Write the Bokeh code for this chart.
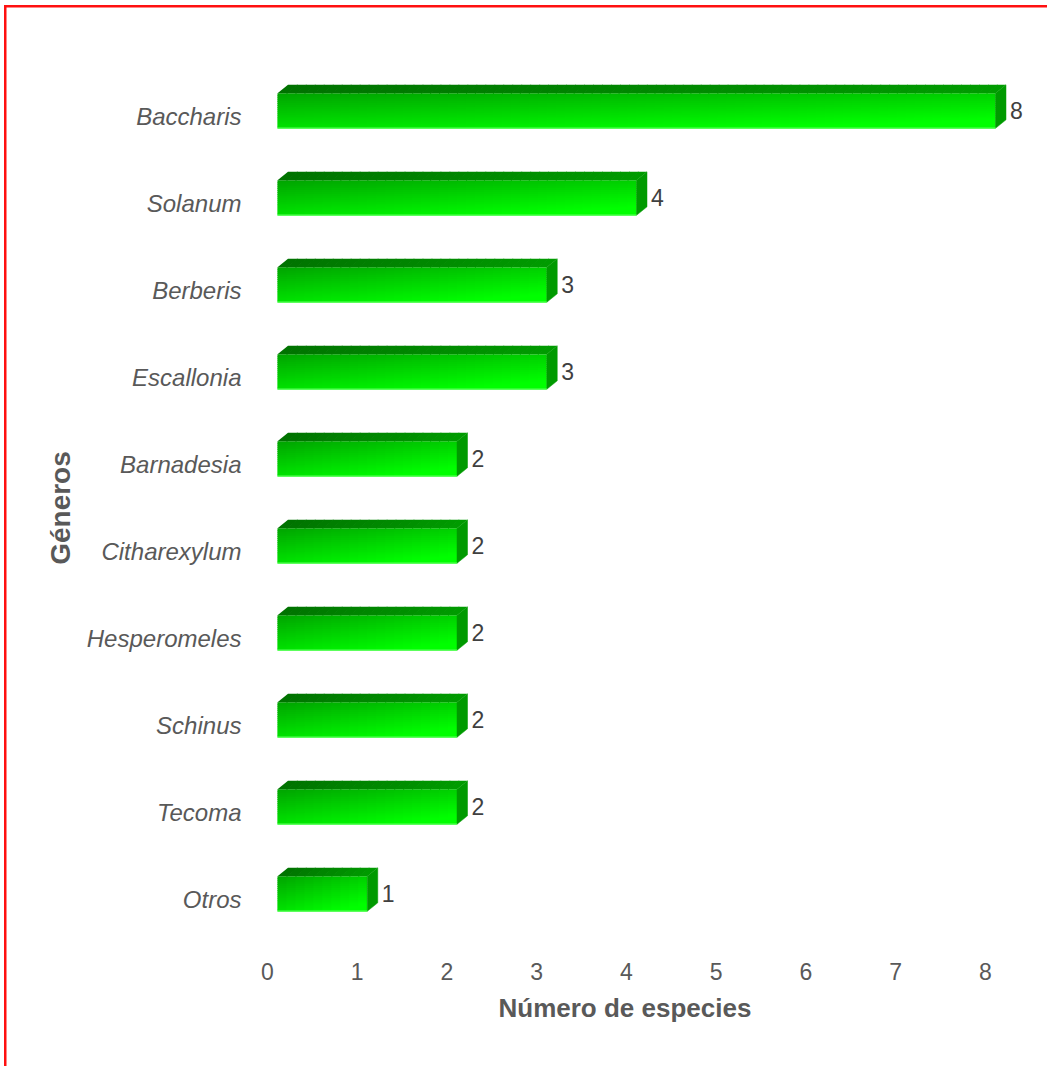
from bokeh.plotting import figure
from bokeh.models import Range1d, FixedTicker, Title, ColumnDataSource
from bokeh.embed import file_html
from bokeh.resources import INLINE
from bokeh.core.properties import value

# ---------------- data ----------------
genera = ["Baccharis", "Solanum", "Berberis", "Escallonia", "Barnadesia",
          "Citharexylum", "Hesperomeles", "Schinus", "Tecoma", "Otros"]
species = [8, 4, 3, 3, 2, 2, 2, 2, 2, 1]
x_ticks = [0, 1, 2, 3, 4, 5, 6, 7, 8]
x_title = "Número de especies"
y_title = "Géneros"

# ---------------- style constants ----------------
PX_X = 89.75          # pixels per x unit
PX_Y = 87.0           # pixels per category
X0 = 10 / PX_X        # front face start (3D offset)
DX = 10.5 / PX_X      # depth in x
DY = 8.5 / PX_Y       # depth in y
H = 35 / PX_Y         # front face height
YOFF = 5.7 / PX_Y     # bar centre above label centre
NR = 18               # gradient rows
COLS_PER_UNIT = 10    # gradient columns per unit of bar length
OVX = 1.0 / PX_X      # cell overlap (avoid seams)
OVY = 1.0 / PX_Y

n = len(genera)
pos = [n - 1 - i for i in range(n)]


def lerp_hex(c1, c2, t):
    t = max(0.0, min(1.0, t))
    a = [int(c1[i:i + 2], 16) for i in (1, 3, 5)]
    b = [int(c2[i:i + 2], 16) for i in (1, 3, 5)]
    return "#%02x%02x%02x" % tuple(round(a[k] + (b[k] - a[k]) * t) for k in range(3))


front = dict(left=[], right=[], top=[], bottom=[], color=[])
top_f = dict(xs=[], ys=[], color=[])
side_f = dict(xs=[], ys=[], color=[])
edge = dict(x0=[], x1=[], y=[])
lab = dict(x=[], y=[], text=[])

for g, v, p in zip(genera, species, pos):
    yc = p + YOFF
    yb, yt = yc - H / 2, yc + H / 2
    x1 = X0 + v
    nc = max(10, int(COLS_PER_UNIT * v))
    # front face gradient (top-left dark -> bottom-right bright)
    for r in range(NR):
        ya = yt - (yt - yb) * r / NR
        yb2 = yt - (yt - yb) * (r + 1) / NR
        if r < NR - 1:
            yb2 -= OVY
        vf = (r + 0.5) / NR
        for c in range(nc):
            xa = X0 + v * c / nc
            xb = X0 + v * (c + 1) / nc
            if c < nc - 1:
                xb += OVX
            uf = (c + 0.5) / nc
            front["left"].append(xa)
            front["right"].append(xb)
            front["top"].append(ya)
            front["bottom"].append(yb2)
            front["color"].append(lerp_hex("#00a400", "#00ff00", 0.68 * vf + 0.48 * uf))
    # top face
    for c in range(nc):
        xa = X0 + v * c / nc
        xb = X0 + v * (c + 1) / nc
        if c < nc - 1:
            xb += OVX
        uf = (c + 0.5) / nc
        top_f["xs"].append([xa, xa + DX, xb + DX, xb])
        top_f["ys"].append([yt, yt + DY, yt + DY, yt])
        top_f["color"].append(lerp_hex("#007200", "#009c00", uf))
    # side face
    side_f["xs"].append([x1, x1 + DX, x1 + DX, x1])
    side_f["ys"].append([yb, yb + DY, yt + DY, yt])
    side_f["color"].append("#009a00")
    edge["x0"].append(X0)
    edge["x1"].append(x1)
    edge["y"].append(yb)
    lab["x"].append(x1 + DX)
    lab["y"].append(yc)
    lab["text"].append(str(v))

W, Hh = 1047, 1066
left_b, right_b, top_b, bot_b = 267, 7, 75, 126
frame_w = W - left_b - right_b
frame_h = Hh - top_b - bot_b
y_zero_px = 899

p = figure(width=W, height=Hh, output_backend="svg", toolbar_location=None,
           x_range=Range1d(0, frame_w / PX_X),
           y_range=Range1d(-(top_b + frame_h - y_zero_px) / PX_Y,
                           (y_zero_px - top_b) / PX_Y),
           min_border_left=left_b, min_border_right=right_b,
           min_border_top=top_b, min_border_bottom=bot_b,
           background_fill_color="white")
p.border_fill_color = None
p.styles = {
    "background": ("linear-gradient(#ff1010,#ff1010) 4px 5px / 2.5px 3000px no-repeat, "
                   "linear-gradient(#ff1010,#ff1010) 4px 5px / 3000px 2.5px no-repeat, #ffffff")
}
p.outline_line_color = None
p.grid.visible = False

p.quad(left="left", right="right", top="top", bottom="bottom",
       fill_color="color", line_color=None,
       source=ColumnDataSource(front))
p.patches(xs="xs", ys="ys", fill_color="color", line_color=None,
          source=ColumnDataSource(top_f))
p.patches(xs="xs", ys="ys", fill_color="color", line_color="color", line_width=0.5,
          source=ColumnDataSource(side_f))
p.segment(x0="x0", x1="x1", y0="y", y1="y", line_color="#5cff5c", line_width=1.5,
          source=ColumnDataSource(edge))
p.text(x="x", y="y", text="text", source=ColumnDataSource(lab),
       x_offset=4, text_align="left", text_baseline="middle",
       text_font=value("Liberation Sans"), text_font_size="23px", text_color="#404040")

# axes
p.xaxis.ticker = FixedTicker(ticks=x_ticks)
p.xaxis.axis_line_color = None
p.xaxis.major_tick_line_color = None
p.xaxis.minor_tick_line_color = None
p.xaxis.major_tick_out = 0
p.xaxis.major_label_standoff = 22
p.xaxis.major_label_text_font = "Liberation Sans"
p.xaxis.major_label_text_font_size = "23px"
p.xaxis.major_label_text_color = "#595959"

p.yaxis.ticker = FixedTicker(ticks=pos)
p.yaxis.major_label_overrides = {pp: g for pp, g in zip(pos, genera)}
p.yaxis.axis_line_color = None
p.yaxis.major_tick_line_color = None
p.yaxis.minor_tick_line_color = None
p.yaxis.major_tick_out = 0
p.yaxis.major_label_standoff = 26
p.yaxis.major_label_text_font = "Liberation Sans"
p.yaxis.major_label_text_font_style = "italic"
p.yaxis.major_label_text_font_size = "24px"
p.yaxis.major_label_text_color = "#595959"
p.yaxis.axis_label = y_title
p.yaxis.axis_label_text_font = "Liberation Sans"
p.yaxis.axis_label_text_font_style = "bold"
p.yaxis.axis_label_text_font_size = "28px"
p.yaxis.axis_label_text_color = "#595959"
p.yaxis.axis_label_standoff = 8

xt = Title(text=x_title, align="left", offset=231, standoff=17,
           text_font="Liberation Sans", text_font_style="bold",
           text_font_size="26px", text_color="#595959")
p.add_layout(xt, "below")

open("out.html", "w").write(file_html(p, INLINE))
